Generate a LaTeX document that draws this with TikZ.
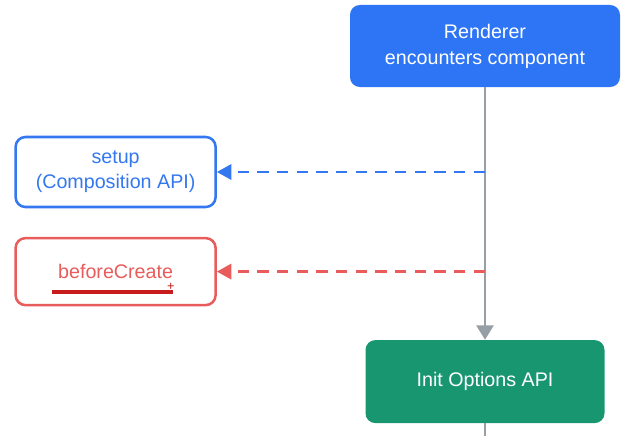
\documentclass[tikz,border=0pt]{standalone}
\usepackage{fontspec}
\setmainfont{Liberation Sans}
\usepackage{tikz}
\usetikzlibrary{arrows.meta}

\definecolor{rendblue}{RGB}{46,117,245}
\definecolor{setupblue}{RGB}{52,120,240}
\definecolor{hookred}{RGB}{232,92,92}
\definecolor{markred}{RGB}{200,28,28}
\definecolor{initgreen}{RGB}{24,150,112}
\definecolor{flowgray}{RGB}{150,158,166}

\tikzset{
  filledbox/.style={rectangle,rounded corners=7pt,text=white,align=center,
    font=\fontsize{14}{18.5}\selectfont},
  hookbox/.style={rectangle,rounded corners=7pt,draw,line width=1.8pt,fill=white,
    align=center,minimum width=5.0cm,font=\fontsize{14}{18}\selectfont},
  hookcall/.style={dashed,line width=1.8pt,dash pattern=on 8pt off 6pt,
    -{Triangle[length=3.6mm,width=3.8mm]}},
}

\begin{document}
\begin{tikzpicture}
\useasboundingbox (0,0) rectangle (15.625,10.9);
\begin{scope}[every node/.style={filledbox}]
    \node[fill=rendblue,minimum width=6.75cm,minimum height=2.05cm] (r) at (12.125,9.75) {Renderer\\encounters component};
    \node[fill=initgreen,minimum width=5.975cm,minimum height=2.075cm] (i) at (12.125,1.36) {Init Options API};
\end{scope}
\begin{scope}[every node/.style={hookbox}]
    \node[draw=setupblue,text=setupblue,minimum height=1.75cm] (s) at (2.89,6.6) {setup\\(Composition API)};
    \node[draw=hookred,text=hookred,minimum height=1.675cm] (b) at (2.89,4.11) {beforeCreate};
\end{scope}
\coordinate (s0) at (12.125,6.6);
\coordinate (b0) at (12.125,4.11);
\coordinate (end) at (12.125,0);

\draw [flowgray,line width=2.1pt,-{Triangle[length=3.6mm,width=4.2mm]}] (r) -- (i);
\draw [flowgray,line width=2.1pt] (i) -- (end);
\draw [hookcall,setupblue] (s0) -- (s);
\draw [hookcall,hookred] (b0) -- (b);

% pen mark
\draw [markred,line width=2.2pt] (1.3,3.6) -- (4.33,3.6);
\node[text=markred,inner sep=0pt,font=\fontsize{9}{9}\selectfont] (p) at (4.27,3.74) {+};
\end{tikzpicture}
\end{document}
